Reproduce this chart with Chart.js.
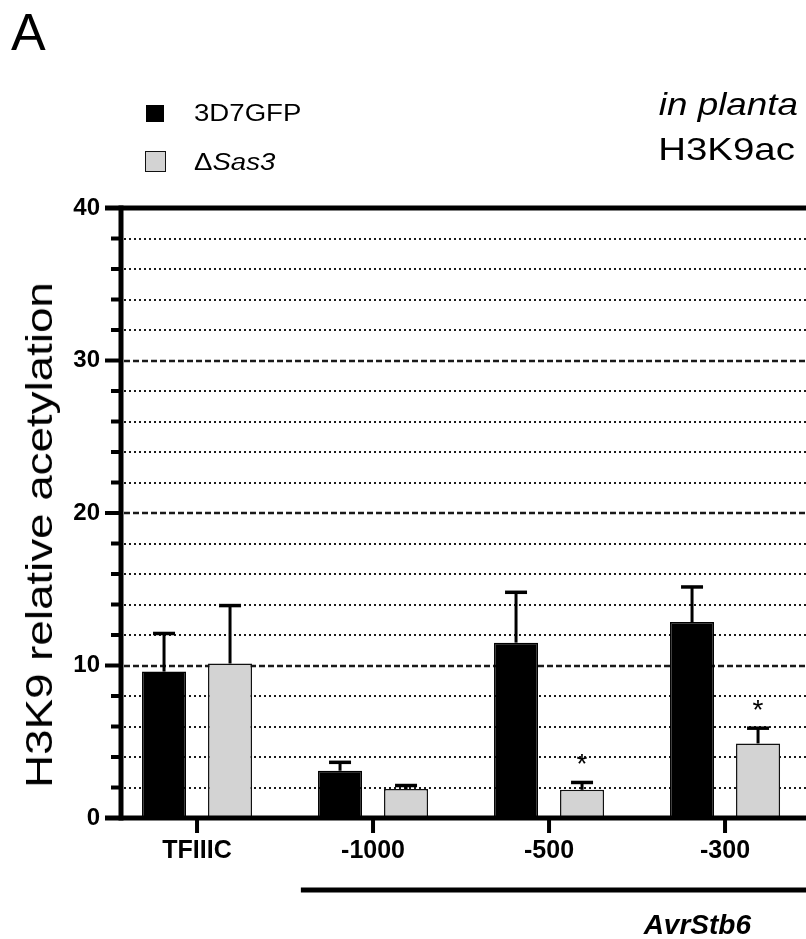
<!DOCTYPE html>
<html>
<head>
<meta charset="utf-8">
<script src="https://cdn.jsdelivr.net/npm/chart.js@4.4.1/dist/chart.umd.min.js"></script>
<style>
    html, body { margin: 0; padding: 0; background: #fff; }
    #wrap { position: relative; width: 806px; height: 939px; overflow: hidden; font-family: "Liberation Sans", Arial, sans-serif; color: #000; }
    #chart { position: absolute; left: 0; top: 0; }
    .txt { position: absolute; white-space: nowrap; line-height: 1; }
    .legend-box { position: absolute; box-sizing: border-box; }
    .legend-label { position: absolute; font-size: 23px; line-height: 1; white-space: nowrap; transform: scaleX(1.2); transform-origin: left; }
</style>
</head>
<body>
<div id="wrap">
    <canvas id="chart" width="806" height="939"></canvas>
    <div class="txt" style="left:11px; top:6px; font-size:52px;">A</div>
    <div id="legend" style="position:absolute; left:0; top:0;"></div>
    <div class="txt" style="right:8px; top:88px; font-size:32px; font-style:italic; transform:scaleX(1.15); transform-origin:right;">in planta</div>
    <div class="txt" style="right:11px; top:133px; font-size:32px; transform:scaleX(1.2); transform-origin:right;">H3K9ac</div>
    <div class="txt" style="left:40px; top:535px; font-size:36px; transform:translate(-50%,-50%) rotate(-90deg) scaleX(1.27);">H3K9 relative acetylation</div>
    <div class="txt" style="right:55px; top:911px; font-size:28px; font-weight:bold; font-style:italic;">AvrStb6</div>
</div>
<script>
// ==========================================
// DATA
// ==========================================

const categories = ['TFIIIC', '-1000', '-500', '-300'];
const seriesNames = ['3D7GFP', 'ΔSas3'];
const wildType = [9.6, 3.1, 11.5, 12.85];
const wildTypeErr = [2.5, 0.55, 3.3, 2.3];
const mutant = [10.13, 1.9, 1.85, 4.89];
const mutantErr = [3.8, 0.23, 0.48, 1.0];
const mutantMarks = ['', '', '*', '*'];
const yMax = 40;
const yStep = 2;
const yLabelEvery = 10;

const errors = [wildTypeErr, mutantErr];
const marks = [null, mutantMarks];

// ==========================================
// PLUGIN: grid, axes, error bars, marks
// ==========================================

const frame = {
    id: 'frame',
    beforeDatasetsDraw(chart) {
        const { ctx, chartArea: a, scales: { y } } = chart;
        ctx.save();
        ctx.strokeStyle = '#1a1a1a';
        for (let v = yStep; v < yMax; v += yStep) {
            const py = Math.round(y.getPixelForValue(v));
            const major = v % yLabelEvery === 0;
            ctx.lineWidth = major ? 2.5 : 2;
            ctx.setLineDash(major ? [6, 3] : [2, 3]);
            ctx.beginPath();
            ctx.moveTo(a.left + 3, py);
            ctx.lineTo(a.right, py);
            ctx.stroke();
        }
        ctx.restore();
    },
    afterDatasetsDraw(chart) {
        const { ctx, chartArea: a, scales: { x, y } } = chart;
        ctx.save();
        ctx.strokeStyle = '#000';
        ctx.fillStyle = '#000';

        // error bars (upper only)
        chart.data.datasets.forEach((ds, d) => {
            const meta = chart.getDatasetMeta(d);
            meta.data.forEach((bar, i) => {
                const val = ds.data[i].y;
                const top = y.getPixelForValue(val + errors[d][i]);
                ctx.lineWidth = 3;
                ctx.beginPath();
                ctx.moveTo(bar.x, bar.y);
                ctx.lineTo(bar.x, top);
                ctx.stroke();
                ctx.lineWidth = 3.5;
                ctx.beginPath();
                ctx.moveTo(bar.x - 11, top);
                ctx.lineTo(bar.x + 11, top);
                ctx.stroke();
                if (marks[d] && marks[d][i]) {
                    ctx.font = '28px "Liberation Sans", Arial, sans-serif';
                    ctx.textAlign = 'center';
                    ctx.textBaseline = 'alphabetic';
                    ctx.fillText(marks[d][i], bar.x, top - 9);
                }
            });
        });

        const y0 = y.getPixelForValue(0);
        const yTop = y.getPixelForValue(yMax);
        ctx.lineCap = 'butt';

        // top frame line and x axis
        ctx.lineWidth = 5;
        ctx.beginPath();
        ctx.moveTo(a.left - 16, yTop);
        ctx.lineTo(a.right, yTop);
        ctx.moveTo(a.left - 16, y0);
        ctx.lineTo(a.right, y0);
        ctx.stroke();

        // y axis
        ctx.beginPath();
        ctx.moveTo(a.left, yTop - 2.5);
        ctx.lineTo(a.left, y0 + 2.5);
        ctx.stroke();

        // y ticks
        ctx.lineWidth = 4;
        for (let v = yStep; v < yMax; v += yStep) {
            const py = y.getPixelForValue(v);
            const len = v % yLabelEvery === 0 ? 16 : 10;
            ctx.beginPath();
            ctx.moveTo(a.left - len, py);
            ctx.lineTo(a.left, py);
            ctx.stroke();
        }

        // x ticks
        categories.forEach((c, i) => {
            const px = x.getPixelForValue(i);
            ctx.beginPath();
            ctx.moveTo(px, y0);
            ctx.lineTo(px, y0 + 15);
            ctx.stroke();
        });

        // bracket under the AvrStb6 positions
        ctx.lineWidth = 5;
        ctx.beginPath();
        ctx.moveTo(x.getPixelForValue(0.59), y0 + 72);
        ctx.lineTo(a.right, y0 + 72);
        ctx.stroke();

        ctx.restore();
    }
};

// ==========================================
// CHART
// ==========================================

const tickFont = { family: '"Liberation Sans", Arial, sans-serif', weight: 'bold' };

const chart = new Chart(document.getElementById('chart').getContext('2d'), {
    type: 'bar',
    data: {
        datasets: [
            {
                label: seriesNames[0],
                data: wildType.map((v, i) => ({ x: i, y: v })),
                backgroundColor: '#000000',
                borderColor: '#000000',
                borderWidth: 1.5
            },
            {
                label: seriesNames[1],
                data: mutant.map((v, i) => ({ x: i, y: v })),
                backgroundColor: '#d3d3d3',
                borderColor: '#111111',
                borderWidth: 1.5
            }
        ]
    },
    options: {
        responsive: false,
        animation: false,
        devicePixelRatio: 1,
        categoryPercentage: 0.75,
        barPercentage: 0.667,
        layout: { padding: { top: 208, left: 0, right: 0, bottom: 0 } },
        plugins: { legend: { display: false }, tooltip: { enabled: false } },
        scales: {
            x: {
                type: 'linear',
                min: -0.432,
                max: 3.46,
                offset: false,
                grid: { display: false, drawTicks: false },
                border: { display: false },
                afterBuildTicks: s => { s.ticks = categories.map((c, i) => ({ value: i })); },
                afterFit: s => { s.height = 121; },
                ticks: {
                    autoSkip: false,
                    maxRotation: 0,
                    padding: 18,
                    color: '#000',
                    font: { ...tickFont, size: 25 },
                    callback: v => categories[v]
                }
            },
            y: {
                min: 0,
                max: yMax,
                grid: { display: false, drawTicks: false },
                border: { display: false },
                afterFit: s => { s.width = 121; },
                ticks: {
                    stepSize: yStep,
                    autoSkip: false,
                    padding: 21,
                    color: '#000',
                    font: { ...tickFont, size: 24 },
                    callback: v => (v % yLabelEvery === 0 ? v : '')
                }
            }
        }
    },
    plugins: [frame]
});

// ==========================================
// LEGEND (built from datasets)
// ==========================================

const legendPos = [
    { box: [146, 105, 18, 17], text: [194, 102] },
    { box: [145, 151, 21, 21], text: [194, 151] }
];
const legendEl = document.getElementById('legend');
chart.data.datasets.forEach((ds, d) => {
    const p = legendPos[d];
    const box = document.createElement('div');
    box.className = 'legend-box';
    box.style.cssText = `left:${p.box[0]}px; top:${p.box[1]}px; width:${p.box[2]}px; height:${p.box[3]}px; background:${ds.backgroundColor}; border:${d === 0 ? 0 : 1.5}px solid ${ds.borderColor};`;
    legendEl.appendChild(box);
    const label = document.createElement('div');
    label.className = 'legend-label';
    label.style.left = p.text[0] + 'px';
    label.style.top = p.text[1] + 'px';
    if (ds.label.startsWith('Δ')) {
        label.innerHTML = 'Δ<i>' + ds.label.slice(1) + '</i>';
    } else {
        label.textContent = ds.label;
    }
    legendEl.appendChild(label);
});
</script>
</body>
</html>
